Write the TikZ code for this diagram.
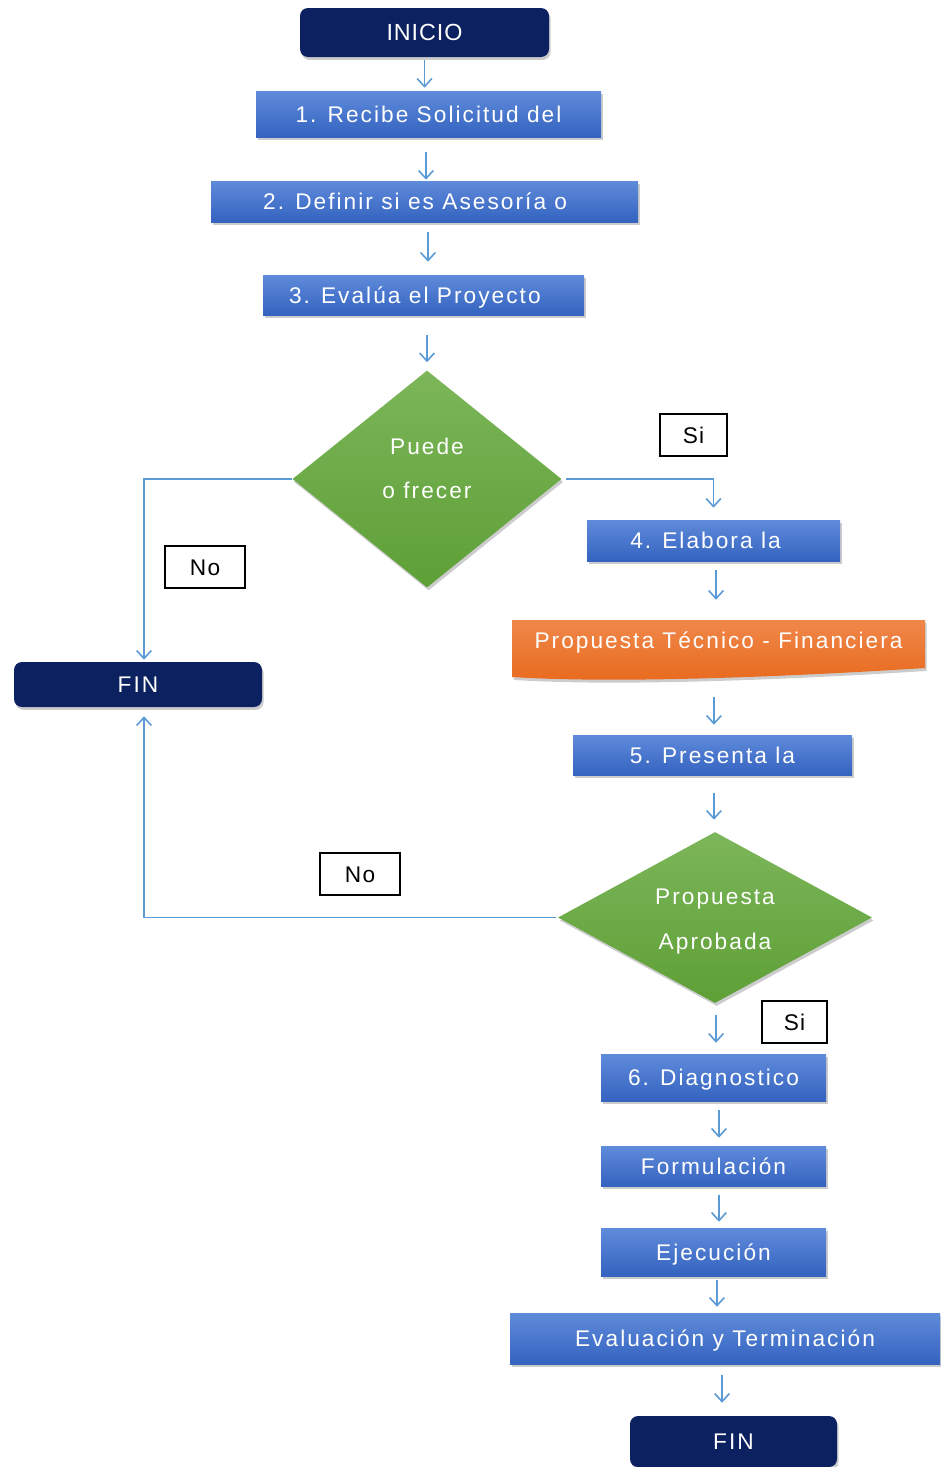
\documentclass[tikz,border=0pt]{standalone}
\usepackage{fontspec}
\setmainfont{Liberation Sans}
\usetikzlibrary{shapes.geometric,arrows.meta,shadows}

\definecolor{navy}{HTML}{0C215F}
\definecolor{bluetop}{HTML}{5F8BDA}
\definecolor{bluebot}{HTML}{3463C0}
\definecolor{greentop}{HTML}{7CB65A}
\definecolor{greenbot}{HTML}{5E9F36}
\definecolor{orangetop}{HTML}{F0874A}
\definecolor{orangebot}{HTML}{E8691C}
\definecolor{linkblue}{HTML}{5B9BD5}

\tikzset{
  sz/.style 2 args={minimum width=#1*0.75pt, minimum height=#2*0.75pt},
  gap/.style 2 args={shorten <=#1*0.75pt, shorten >=#2*0.75pt},
  txt/.style={font=\fontsize{17}{20}\selectfont\addfontfeature{LetterSpace=9},
              text=white, text height=12.2pt, text depth=0pt},
  shade/.style={drop shadow={shadow xshift=1.2pt, shadow yshift=-2.2pt, opacity=0.4}},
  stepbox/.style={rectangle, inner sep=0pt, top color=bluetop, bottom color=bluebot,
                  draw=none, txt, shade},
  term/.style={rectangle, rounded corners=6pt, fill=navy, inner sep=0pt, txt, shade},
  decision/.style={diamond, inner sep=0pt, top color=greentop, bottom color=greenbot, shade},
  dtext/.style={align=center, text=white,
                font=\fontsize{17}{33.5}\selectfont\addfontfeature{LetterSpace=9}},
  tag/.style={rectangle, draw=black, line width=1.2pt, fill=white, inner sep=0pt,
              font=\fontsize{17}{20}\selectfont\addfontfeature{LetterSpace=6},
              text=black, text height=12.2pt, text depth=0pt},
  arr/.style={draw=linkblue, line width=1.2pt, -{Straight Barb[length=6pt,width=11pt]}},
}

\begin{document}
\begin{tikzpicture}[x=0.75pt, y=-0.75pt]
\useasboundingbox (0,0) rectangle (940,1467);

% main column
\node[term, sz={249}{49}, font=\fontsize{17.5}{20}\selectfont\addfontfeature{LetterSpace=4}] (ini) at (424.5,32.5) {INICIO};
\node[stepbox, sz={345}{46}] (b1) at (428.5,114) {1. Recibe Solicitud del};
\node[stepbox, sz={427}{41}] (b2) at (424.5,201.5) {2. Definir si es Asesoría o\kern14pt};
\node[stepbox, sz={321}{40}] (b3) at (423.5,295) {3. Evalúa el Proyecto\kern13pt};
\node[decision, sz={269}{217},
      label={[dtext, yshift=7.9pt]center:{Puede\\o frecer}}] (d1) at (427,479) {};

% left end
\node[term, sz={248}{45}] (fin1) at (138,684.5) {FIN};

% right branch
\node[stepbox, sz={253}{41}] (b4) at (713.5,540.5) {4. Elabora la\kern12pt};
\path[top color=orangetop, bottom color=orangebot, shade]
  (512,620) -- (925,620) -- (925,668)
  .. controls (800,676) and (620,684) .. (512,677) -- cycle;
\node[txt, inner sep=0pt, sz={413}{40}] (doc) at (718.5,640) {Propuesta Técnico - Financiera};
\node[stepbox, sz={279}{40}] (b5) at (712.5,755) {5. Presenta la};
\node[decision, sz={314}{171},
      label={[dtext, yshift=-3pt]center:{Propuesta\\Aprobada}}] (d2) at (715,917.5) {};
\node[stepbox, sz={225}{47}] (b6) at (713.5,1077.5) {6. Diagnostico};
\node[stepbox, sz={225}{40}] (b7) at (713.5,1166) {Formulación};
\node[stepbox, sz={225}{48}] (b8) at (713.5,1252) {Ejecución};
\node[stepbox, sz={430}{51}] (b9) at (725,1338.5) {Evaluación y Terminación};
\node[term, sz={207}{51}] (fin2) at (733.5,1441.5) {FIN};

% answer tags
\node[tag, sz={67}{42}] (si1) at (693.5,435) {Si};
\node[tag, sz={80}{42}] (no1) at (205,567) {No};
\node[tag, sz={80}{42}] (no2) at (360,874) {No};
\node[tag, sz={65}{42}] (si2) at (794.5,1022) {Si};

% connectors
\draw[arr, gap={3}{3}] (ini.south) -- (ini.south |- b1.north);
\draw[arr, gap={15}{1}] ([xshift=-1.9pt]b1.south) -- ([xshift=-1.9pt]b1.south |- b2.north);
\draw[arr, gap={10}{13}] ([xshift=2.6pt]b2.south) -- ([xshift=2.6pt]b2.south |- b3.north);
\draw[arr, gap={20}{8}] (b3.south -| d1.north) -- (d1.north);
\draw[arr, gap={4}{12}] (d1.east) -| (b4.north);
\draw[arr, gap={0}{2}] (d1.west) -| ([xshift=4.5pt]fin1.north);
\draw[arr, gap={9}{20}] ([xshift=1.9pt]b4.south) -- ([xshift=1.9pt]b4.south |- doc.north);
\draw[arr, gap={37}{10}] ([xshift=-3.4pt]doc.south) -- ([xshift=-3.4pt]doc.south |- b5.north);
\draw[arr, gap={18}{12}] ([xshift=1.1pt]b5.south) -- ([xshift=1.1pt]b5.south |- d2.north);
\draw[arr, gap={2}{9}] (d2.west) -| ([xshift=4.5pt]fin1.south);
\draw[arr, gap={12}{11}] ([xshift=0.8pt]d2.south) -- ([xshift=0.8pt]d2.south |- b6.north);
\draw[arr, gap={9}{8}] ([xshift=4.1pt]b6.south) -- ([xshift=4.1pt]b6.south |- b7.north);
\draw[arr, gap={9}{6}] ([xshift=4.1pt]b7.south) -- ([xshift=4.1pt]b7.south |- b8.north);
\draw[arr, gap={4}{6}] ([xshift=2.6pt]b8.south) -- ([xshift=2.6pt]b8.south |- b9.north);
\draw[arr, gap={11}{13}] ([xshift=-2.2pt]b9.south) -- ([xshift=-2.2pt]b9.south |- fin2.north);
\end{tikzpicture}
\end{document}
